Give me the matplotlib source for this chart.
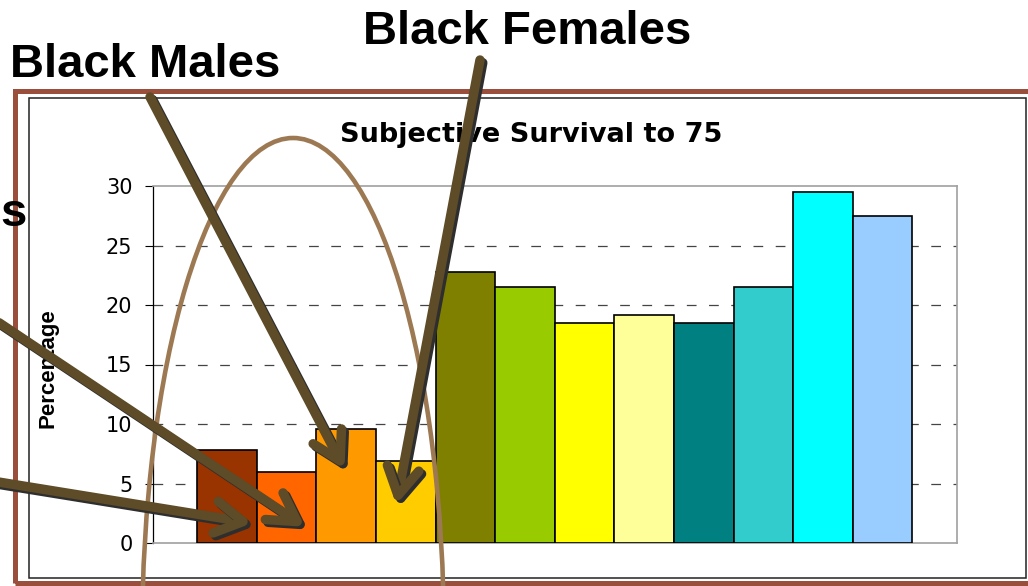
import numpy as np
import matplotlib
matplotlib.use("Agg")
import matplotlib.pyplot as plt
from matplotlib.patches import Rectangle, Ellipse
from matplotlib.lines import Line2D
import matplotlib.patheffects as pe

# ---- data ----
values = [7.8, 6.0, 9.6, 6.9, 22.8, 21.5, 18.5, 19.2, 18.5, 21.5, 29.5, 27.5]
bar_colors = ["#993300", "#FF6600", "#FF9900", "#FFCC00", "#808000", "#99CC00",
              "#FFFF00", "#FFFF99", "#008080", "#33CCCC", "#00FFFF", "#99CCFF"]
yticks = [0, 5, 10, 15, 20, 25, 30]
title = "Subjective Survival to 75"
ylabel = "Percentage"
callouts = ["Black Males", "Black Females", "s"]

W, H = 1028, 586
plt.rcParams['lines.scale_dashes'] = False
fig = plt.figure(figsize=(W / 100, H / 100), dpi=100)


def fx(x):
    return x / W


def fy(y):
    return (H - y) / H


# slide frames
fig.patches.append(Rectangle((fx(14.5), fy(582.5)), fx(1040 - 14.5), (582.5 - 90.5) / H,
                             transform=fig.transFigure, fill=False,
                             edgecolor="#9A4F3D", linewidth=3.6, zorder=0))
fig.patches.append(Rectangle((fx(29.3), fy(578)), fx(1025.7 - 29.3), (578 - 98) / H,
                             transform=fig.transFigure, fill=False,
                             edgecolor="#222222", linewidth=1.1, zorder=0))

# axes
ax = fig.add_axes([fx(153), fy(543), fx(957 - 153), (543 - 186) / H])
x = np.arange(len(values))
ax.bar(x, values, width=1.0, color=bar_colors, edgecolor="black", linewidth=1.2, zorder=3)
ax.set_xlim(-1.24, 12.25)
ax.set_ylim(0, 30)
ax.set_yticks(yticks)
ax.set_yticklabels([str(t) for t in yticks], family="DejaVu Sans", fontsize=15)
ax.tick_params(axis="y", direction="out", length=5.8, width=0.8, pad=9, color="black")
ax.set_xticks([])
for yv in yticks[1:-1]:
    ax.axhline(yv, color="#444444", linewidth=0.9, dashes=(7, 9), zorder=1)
ax.spines["left"].set_color("black")
ax.spines["left"].set_linewidth(0.9)
for s in ["top", "right", "bottom"]:
    ax.spines[s].set_color("#A0A0A0")
    ax.spines[s].set_linewidth(1.2)
ax.set_facecolor("none")

# title and axis label
fig.text(fx(531), fy(142), title, ha="center", va="baseline",
         family="DejaVu Sans", fontweight="bold", fontsize=19.5)
fig.text(fx(48), fy(368.5), ylabel, rotation=90, ha="center", va="center",
         family="Liberation Sans", fontweight="bold", fontsize=16)

# callout texts
fig.text(fx(10), fy(77), callouts[0], ha="left", va="baseline",
         family="Liberation Sans", fontweight="bold", fontsize=34)
fig.text(fx(363), fy(43.5), callouts[1], ha="left", va="baseline",
         family="Liberation Sans", fontweight="bold", fontsize=34)
fig.text(fx(0), fy(226), callouts[2], ha="left", va="baseline",
         family="Liberation Sans", fontweight="bold", fontsize=34)

# arc
fig.patches.append(Ellipse((fx(293), fy(639)), 302 / W, 1002 / H,
                           transform=fig.transFigure, fill=False,
                           edgecolor="#9C7952", linewidth=3.3, zorder=10))

# arrows (start in pixels, tip in data coordinates of the bars)
arrow_specs = [
    ((150, 97), (1.9, 6.9)),
    ((480, 60), (2.87, 4.0)),
    ((-20, 310), (1.18, 1.8)),
    ((-20, 479), (0.27, 1.8)),
]
shaft_col = "#5E4B27"
effects = [pe.SimpleLineShadow(offset=(2.0, -2.0), shadow_color="#2E2E2E", alpha=1.0),
           pe.Normal()]
fig.canvas.draw()
for (sx, sy), (tx, ty) in arrow_specs:
    disp = ax.transData.transform((tx, ty))
    tpx, tpy = disp[0], H - disp[1]
    d = np.array([sx - tpx, sy - tpy], float)
    d /= np.hypot(*d)
    L = 32
    arms = []
    for ang in (np.deg2rad(30), -np.deg2rad(30)):
        c, s_ = np.cos(ang), np.sin(ang)
        r = np.array([c * d[0] - s_ * d[1], s_ * d[0] + c * d[1]])
        arms.append((tpx + L * r[0], tpy + L * r[1]))
    shaft = Line2D([fx(sx), fx(tpx)], [fy(sy), fy(tpy)], transform=fig.transFigure,
                   color=shaft_col, linewidth=6.8, solid_capstyle="round", zorder=20)
    head = Line2D([fx(arms[0][0]), fx(tpx), fx(arms[1][0])],
                  [fy(arms[0][1]), fy(tpy), fy(arms[1][1])], transform=fig.transFigure,
                  color=shaft_col, linewidth=6.8, solid_capstyle="round",
                  solid_joinstyle="round", zorder=21)
    shaft.set_path_effects(effects)
    head.set_path_effects(effects)
    fig.lines.extend([shaft, head])

fig.savefig("out.png", dpi=100)
